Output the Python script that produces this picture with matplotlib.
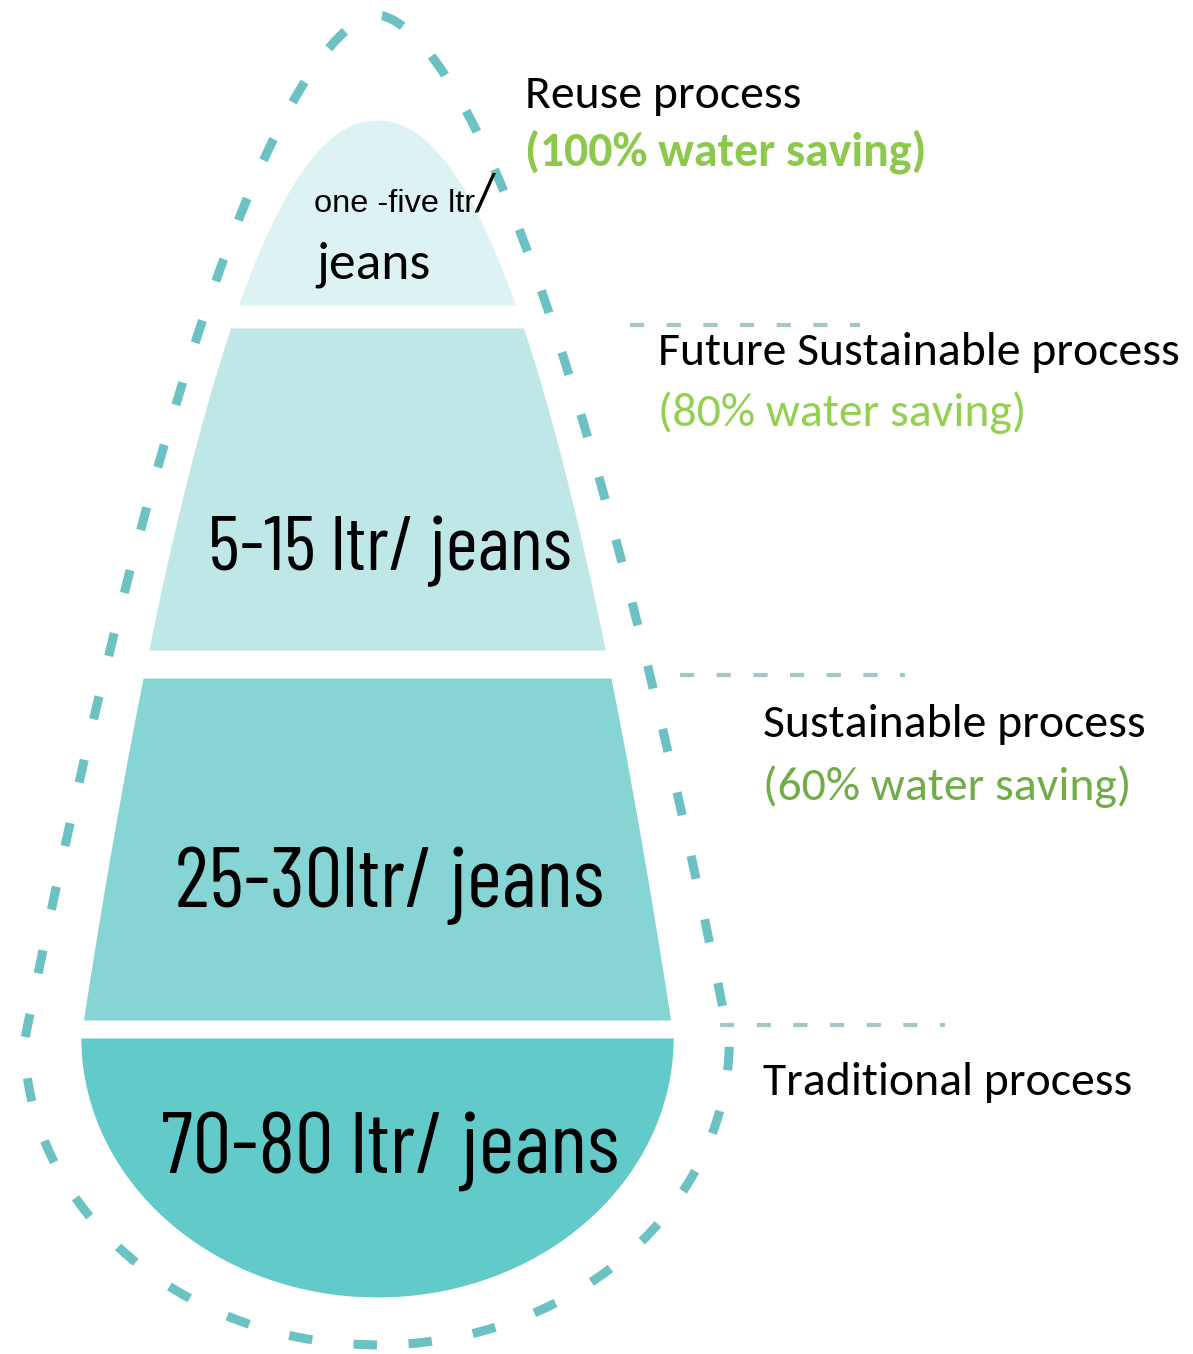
import matplotlib
matplotlib.use("Agg")
import matplotlib.pyplot as plt
import numpy as np

# ---- data ----
stage_names = ["Reuse process", "Future Sustainable process",
               "Sustainable process", "Traditional process"]
saving_labels = ["(100% water saving)", "(80% water saving)",
                 "(60% water saving)", None]
water_labels = ["one -five ltr", "5-15 ltr/ jeans",
                "25-30ltr/ jeans", "70-80 ltr/ jeans"]

# vertical extent of each band of the drop (pixel rows, top -> bottom)
band_top = [120, 328, 678, 1038]
band_bottom = [305, 650, 1020, 1297]
band_colors = ["#ddf2f2", "#c0e7e8", "#86d4d4", "#63caca"]

# dashed leader lines on the right
leader_y = [325, 675, 1025]
leader_x0 = [630, 680, 720]
leader_x1 = [860, 905, 945]

W, H = 1193, 1354


def drop_halfwidth(y, tip, k, p, yc, ry):
    """half width of a tear drop: power curve on top, half ellipse at bottom"""
    y = np.asarray(y, dtype=float)
    rx = k * (yc - tip) ** p
    w = np.where(y <= yc, k * np.clip(y - tip, 0, None) ** p,
                 rx * np.sqrt(np.clip(1 - ((y - yc) / ry) ** 2, 0, None)))
    return w


fig = plt.figure(figsize=(W / 100, H / 100), dpi=100)
ax = fig.add_axes([0, 0, 1, 1])
ax.set_xlim(0, W)
ax.set_ylim(H, 0)
ax.axis("off")

cx = 377
# inner bands
for top, bot, col in zip(band_top, band_bottom, band_colors):
    yy = np.linspace(top, bot, 400)
    hw = drop_halfwidth(yy, 120, 11.6, 0.475, 1037, 260)
    ax.fill_betweenx(yy, cx - hw, cx + hw, color=col, lw=0)

# outer dashed outline
t = np.linspace(15, 1345, 1500)
hw_o = drop_halfwidth(t, 15, 6.32, 0.58, 1040, 305)
xs = np.concatenate([cx - hw_o[::-1], cx + hw_o])
ys = np.concatenate([t[::-1], t])
ax.plot(xs, ys, color="#5cbcbc", lw=6.5, ls=(0, (2.6, 4.6)),
        solid_capstyle="butt", alpha=0.9)

# leader lines
for y, x0, x1 in zip(leader_y, leader_x0, leader_x1):
    ax.plot([x0, x1], [y, y], color="#a6c6c6", lw=3, ls=(0, (3.4, 5.4)))

# right hand labels
cal = ["Carlito", "DejaVu Sans"]
name_pos = [(525, 108), (658, 365), (763, 737), (763, 1095)]
save_pos = [(525, 165), (658, 426), (763, 800), None]
save_col = ["#8cc84b", "#92d050", "#70ad47", None]
save_wt = ["bold", "normal", "normal", None]
for i, name in enumerate(stage_names):
    x, y = name_pos[i]
    ax.text(x, y, name, family=cal, fontsize=34.4, color="black", va="baseline")
    if saving_labels[i]:
        x, y = save_pos[i]
        ax.text(x, y, saving_labels[i], family=cal, fontsize=34.4,
                color=save_col[i], fontweight=save_wt[i], va="baseline")

# labels inside the drop
ax.text(314, 212, water_labels[0], family=["Liberation Sans", "DejaVu Sans"],
        fontsize=23.4, va="baseline")
ax.text(474, 210, "/", family=cal, fontsize=38.6, va="baseline")
ax.text(316, 278, "jeans", family=cal, fontsize=38.6, va="baseline")

cond = ["Barlow Condensed", "DejaVu Sans"]
big_y = [570, 907, 1173]
big_size = [56, 61, 62.5]
for lab, y, s in zip(water_labels[1:], big_y, big_size):
    ax.text(390, y, lab, family=cond, fontsize=s, ha="center", va="baseline")

fig.savefig("out.png", dpi=100)
